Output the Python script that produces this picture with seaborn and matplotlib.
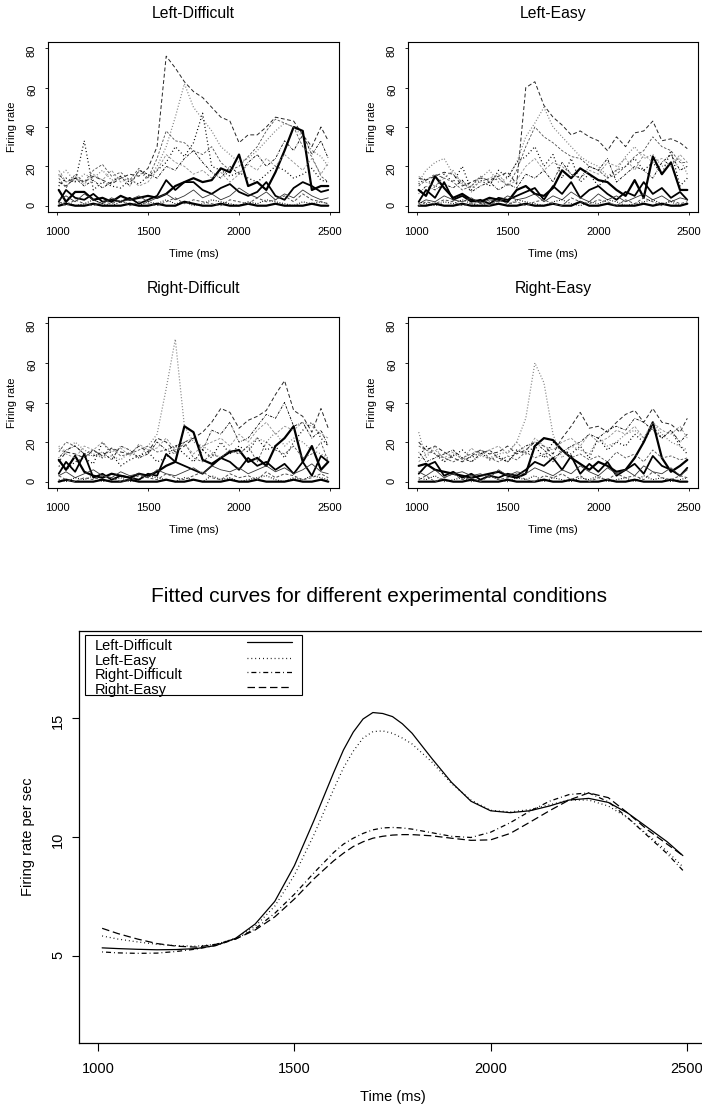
import matplotlib
matplotlib.use("Agg")
import matplotlib.pyplot as plt
from matplotlib.lines import Line2D
from matplotlib.patches import Rectangle
import seaborn as sns

sns.set_style("ticks")
plt.rcParams["font.family"] = ["Liberation Sans", "DejaVu Sans"]
for key in ("text.color", "axes.labelcolor", "xtick.color", "ytick.color", "axes.edgecolor"):
    plt.rcParams[key] = "black"

# ---------------------------------------------------------------- data
time_ms = [1010, 1050, 1100, 1150, 1200, 1250, 1300, 1350, 1400, 1450,
           1500, 1550, 1600, 1650, 1700, 1750, 1800, 1850, 1900, 1950,
           2000, 2050, 2100, 2150, 2200, 2250, 2300, 2350, 2400, 2450, 2490]

# binned firing rates, one row per neuron
left_difficult = [
    [12, 10, 14, 12, 15, 13, 11, 14, 16, 15, 19, 30, 76, 70, 63, 58, 55, 50, 45, 43, 32, 36, 36, 40, 45, 44, 43, 36, 30, 40, 33],
    [15, 18, 12, 16, 14, 18, 13, 15, 12, 17, 14, 20, 30, 45, 62, 50, 44, 38, 30, 26, 22, 24, 28, 33, 38, 42, 40, 35, 28, 25, 20],
    [10, 14, 12, 33, 8, 12, 10, 9, 13, 11, 15, 18, 22, 30, 25, 32, 47, 20, 18, 15, 17, 14, 12, 16, 20, 18, 14, 16, 19, 13, 12],
    [8, 2, 7, 7, 3, 4, 2, 5, 3, 4, 5, 4, 6, 10, 12, 14, 12, 13, 19, 17, 26, 10, 12, 8, 17, 28, 40, 38, 8, 10, 10],
    [2, 8, 4, 3, 6, 2, 3, 2, 4, 1, 3, 5, 13, 8, 12, 12, 8, 6, 9, 11, 7, 5, 7, 12, 5, 3, 9, 12, 10, 7, 8],
    [14, 9, 16, 12, 18, 21, 15, 17, 13, 19, 14, 24, 38, 33, 32, 28, 26, 30, 22, 18, 20, 25, 30, 38, 44, 42, 40, 30, 25, 15, 12],
    [16, 12, 14, 10, 13, 9, 12, 15, 10, 18, 16, 14, 20, 18, 24, 28, 22, 17, 14, 20, 16, 22, 26, 20, 24, 33, 28, 36, 26, 33, 24],
    [18, 12, 15, 11, 16, 13, 18, 12, 14, 10, 12, 18, 26, 22, 20, 16, 18, 14, 17, 12, 16, 21, 18, 24, 20, 26, 22, 18, 24, 16, 22],
    [3, 5, 2, 6, 3, 1, 4, 2, 3, 5, 2, 4, 6, 3, 5, 8, 4, 6, 3, 5, 9, 6, 4, 7, 3, 6, 4, 8, 5, 3, 4],
    [0, 1, 0, 0, 1, 0, 0, 0, 1, 0, 0, 1, 0, 0, 2, 1, 0, 0, 1, 0, 0, 1, 0, 0, 1, 0, 0, 0, 1, 0, 0],
    [1, 2, 0, 1, 3, 1, 0, 2, 1, 0, 2, 1, 3, 1, 2, 0, 1, 3, 2, 1, 0, 2, 1, 3, 2, 1, 0, 2, 1, 2, 1],
    [2, 0, 3, 1, 0, 2, 1, 3, 0, 2, 1, 0, 2, 4, 1, 3, 2, 1, 0, 3, 2, 1, 4, 2, 3, 5, 2, 6, 3, 2, 1],
]

left_easy = [
    [14, 13, 15, 17, 16, 10, 12, 14, 13, 15, 17, 11, 60, 63, 51, 45, 41, 36, 38, 35, 33, 28, 35, 30, 37, 38, 43, 33, 34, 32, 29],
    [12, 18, 22, 24, 16, 12, 10, 14, 18, 12, 14, 22, 35, 42, 50, 40, 35, 30, 25, 22, 20, 15, 18, 25, 30, 24, 26, 20, 22, 24, 16],
    [11, 14, 9, 16, 12, 20, 8, 13, 10, 18, 14, 22, 25, 30, 20, 26, 14, 24, 12, 16, 10, 14, 18, 20, 24, 18, 22, 16, 28, 10, 14],
    [8, 5, 15, 9, 4, 6, 3, 2, 4, 3, 2, 8, 10, 6, 5, 9, 18, 14, 19, 16, 13, 12, 8, 5, 13, 4, 25, 16, 22, 8, 8],
    [2, 8, 4, 12, 3, 5, 2, 3, 1, 4, 3, 5, 7, 9, 3, 10, 6, 12, 4, 8, 10, 6, 3, 7, 5, 12, 6, 9, 4, 7, 3],
    [10, 13, 16, 14, 12, 8, 10, 15, 12, 14, 10, 18, 30, 40, 35, 32, 28, 25, 24, 20, 18, 14, 16, 20, 25, 28, 35, 30, 28, 22, 22],
    [6, 10, 8, 11, 9, 13, 7, 10, 12, 8, 11, 9, 16, 14, 18, 12, 22, 16, 14, 20, 18, 24, 12, 16, 20, 18, 14, 22, 26, 18, 20],
    [15, 12, 10, 14, 18, 11, 9, 12, 14, 16, 10, 13, 20, 24, 18, 22, 20, 16, 14, 18, 16, 22, 20, 24, 18, 26, 22, 24, 20, 26, 22],
    [1, 3, 2, 5, 3, 2, 4, 1, 3, 2, 5, 3, 4, 6, 2, 5, 3, 7, 4, 2, 6, 3, 5, 2, 4, 6, 3, 5, 2, 4, 3],
    [0, 0, 1, 0, 0, 1, 0, 0, 0, 1, 0, 0, 1, 0, 0, 1, 0, 0, 2, 0, 0, 1, 0, 0, 0, 1, 0, 1, 0, 0, 1],
    [2, 1, 0, 2, 1, 3, 1, 0, 2, 1, 0, 3, 2, 1, 0, 2, 3, 1, 0, 2, 1, 3, 2, 0, 1, 2, 3, 1, 2, 0, 1],
    [0, 2, 1, 3, 2, 0, 1, 2, 0, 3, 1, 2, 0, 2, 3, 1, 0, 4, 2, 1, 3, 2, 0, 3, 1, 4, 2, 0, 3, 1, 2],
]

right_difficult = [
    [10, 15, 14, 12, 16, 13, 17, 15, 14, 18, 15, 22, 20, 15, 18, 22, 25, 30, 37, 35, 27, 31, 33, 36, 44, 51, 36, 33, 25, 37, 27],
    [18, 15, 20, 16, 14, 12, 13, 11, 15, 12, 18, 24, 47, 72, 28, 20, 18, 15, 12, 16, 14, 18, 22, 20, 25, 18, 22, 20, 16, 14, 12],
    [8, 6, 10, 12, 9, 20, 14, 8, 11, 13, 15, 10, 12, 18, 14, 10, 16, 12, 20, 14, 18, 15, 22, 16, 18, 12, 20, 26, 30, 22, 18],
    [11, 6, 13, 5, 3, 2, 4, 3, 2, 4, 3, 5, 8, 10, 28, 25, 11, 9, 12, 15, 16, 10, 12, 8, 18, 22, 28, 10, 18, 6, 10],
    [4, 10, 5, 14, 2, 4, 1, 3, 2, 1, 4, 3, 14, 10, 8, 6, 4, 8, 12, 10, 6, 12, 8, 10, 6, 9, 4, 10, 3, 13, 10],
    [15, 20, 18, 14, 16, 12, 17, 13, 14, 16, 18, 15, 16, 14, 20, 12, 10, 14, 12, 16, 14, 18, 10, 20, 16, 14, 18, 12, 14, 20, 10],
    [12, 16, 18, 14, 13, 15, 11, 18, 16, 12, 14, 20, 16, 18, 20, 22, 16, 26, 24, 30, 20, 22, 28, 34, 32, 40, 28, 30, 22, 26, 18],
    [17, 14, 12, 18, 16, 20, 15, 17, 13, 19, 16, 17, 22, 16, 19, 14, 18, 20, 22, 18, 24, 20, 26, 30, 24, 28, 26, 30, 28, 24, 22],
    [3, 5, 2, 4, 6, 3, 2, 5, 3, 4, 2, 6, 4, 3, 5, 7, 4, 8, 6, 5, 7, 4, 6, 8, 5, 7, 4, 6, 9, 5, 4],
    [0, 1, 0, 0, 0, 1, 0, 0, 1, 0, 0, 0, 1, 0, 0, 1, 0, 0, 0, 1, 0, 0, 1, 0, 0, 0, 1, 0, 0, 1, 0],
    [1, 0, 2, 1, 3, 0, 1, 2, 0, 1, 3, 2, 1, 0, 2, 1, 0, 3, 1, 2, 0, 1, 2, 3, 1, 0, 2, 1, 3, 2, 1],
    [3, 1, 0, 2, 1, 3, 2, 0, 1, 3, 2, 1, 4, 2, 1, 3, 5, 2, 1, 4, 2, 3, 1, 5, 2, 4, 3, 1, 2, 4, 2],
]

right_easy = [
    [20, 16, 18, 15, 12, 10, 13, 16, 14, 15, 18, 14, 16, 20, 18, 14, 22, 28, 35, 27, 28, 25, 30, 34, 36, 30, 37, 30, 29, 25, 32],
    [25, 12, 18, 10, 14, 12, 10, 13, 12, 14, 15, 20, 32, 60, 50, 24, 12, 18, 16, 14, 22, 18, 20, 24, 26, 22, 30, 24, 20, 18, 16],
    [12, 18, 14, 10, 13, 16, 12, 15, 11, 13, 10, 16, 14, 18, 12, 20, 16, 14, 18, 12, 22, 16, 20, 18, 24, 20, 28, 22, 26, 18, 14],
    [8, 9, 6, 5, 4, 3, 2, 3, 4, 5, 3, 2, 4, 18, 22, 21, 16, 12, 9, 6, 10, 8, 5, 6, 12, 20, 30, 12, 5, 8, 11],
    [4, 8, 10, 3, 5, 2, 4, 1, 3, 2, 4, 3, 6, 10, 8, 12, 6, 13, 4, 9, 5, 10, 3, 6, 9, 4, 13, 8, 6, 3, 7],
    [18, 16, 14, 12, 10, 12, 14, 16, 12, 10, 13, 11, 15, 12, 14, 10, 16, 12, 14, 11, 13, 10, 15, 12, 14, 10, 16, 12, 13, 11, 12],
    [15, 10, 12, 14, 16, 12, 10, 14, 16, 12, 10, 15, 18, 20, 16, 12, 15, 18, 20, 24, 22, 26, 28, 26, 32, 30, 26, 22, 26, 20, 24],
    [10, 14, 16, 12, 15, 11, 17, 13, 16, 18, 14, 20, 15, 22, 18, 16, 20, 22, 18, 24, 20, 22, 26, 24, 28, 22, 30, 26, 24, 28, 22],
    [5, 3, 6, 2, 4, 5, 3, 4, 2, 6, 3, 5, 4, 7, 5, 3, 6, 4, 8, 5, 3, 7, 4, 6, 3, 8, 5, 4, 7, 3, 6],
    [0, 0, 0, 1, 0, 0, 1, 0, 0, 0, 1, 0, 0, 0, 1, 0, 0, 1, 0, 0, 0, 1, 0, 0, 1, 0, 0, 0, 1, 0, 0],
    [2, 1, 3, 0, 1, 2, 0, 1, 3, 1, 0, 2, 1, 3, 0, 2, 1, 0, 2, 1, 3, 0, 1, 2, 0, 3, 1, 2, 0, 1, 2],
    [1, 3, 0, 2, 4, 1, 2, 0, 3, 1, 2, 4, 1, 0, 3, 2, 4, 1, 3, 0, 2, 1, 4, 2, 3, 1, 5, 2, 1, 3, 2],
]

conditions = ["Left-Difficult", "Left-Easy", "Right-Difficult", "Right-Easy"]

# smoothed population curves (firing rate per sec)
fit_time_ms = [1010, 1050, 1100, 1150, 1200, 1250, 1300, 1350, 1400, 1450,
               1500, 1550, 1600, 1625, 1650, 1675, 1700, 1725, 1750, 1775, 1800,
               1850, 1900, 1950, 2000, 2050, 2100, 2150, 2200, 2250, 2300,
               2350, 2400, 2450, 2490]
fit_left_difficult = [5.35, 5.32, 5.29, 5.27, 5.28, 5.32, 5.45, 5.75, 6.35, 7.3,
                      8.8, 10.7, 12.7, 13.65, 14.4, 14.95, 15.22, 15.18, 15.05, 14.75, 14.35,
                      13.3, 12.3, 11.5, 11.1, 11.02, 11.1, 11.3, 11.55, 11.62, 11.45,
                      11.0, 10.4, 9.8, 9.22]
fit_left_easy = [5.85, 5.72, 5.6, 5.5, 5.44, 5.42, 5.5, 5.75, 6.25, 7.1,
                 8.4, 10.1, 12.0, 12.9, 13.6, 14.15, 14.42, 14.45, 14.35, 14.15, 13.9,
                 13.15, 12.25, 11.55, 11.12, 11.05, 11.15, 11.35, 11.55, 11.55, 11.3,
                 10.8, 10.1, 9.4, 8.75]
fit_right_difficult = [5.18, 5.14, 5.12, 5.13, 5.2, 5.3, 5.45, 5.72, 6.15, 6.8,
                       7.6, 8.5, 9.35, 9.7, 9.95, 10.15, 10.3, 10.38, 10.4, 10.38, 10.33,
                       10.18, 10.03, 9.98, 10.2, 10.6, 11.08, 11.5, 11.78, 11.85, 11.48,
                       10.8, 10.05, 9.3, 8.6]
fit_right_easy = [6.17, 5.95, 5.72, 5.53, 5.42, 5.38, 5.5, 5.72, 6.1, 6.65,
                  7.4, 8.25, 9.0, 9.32, 9.6, 9.8, 9.95, 10.03, 10.08, 10.1, 10.1,
                  10.05, 9.95, 9.86, 9.88, 10.15, 10.62, 11.1, 11.55, 11.85, 11.65,
                  11.0, 10.3, 9.7, 9.22]

# ---------------------------------------------------------------- styles
neuron_styles = [
    ("0.15", 0.7, (0, (4, 2.5))),
    ("0.5", 0.9, (0, (0.8, 1.6))),
    ("black", 0.9, (0, (0.8, 2.0))),
    ("black", 1.6, "-"),
    ("black", 1.3, "-"),
    ("0.3", 0.6, (0, (3, 2))),
    ("black", 0.6, (0, (0.8, 1.5, 3, 1.5))),
    ("0.55", 0.6, (0, (3, 2))),
    ("0.2", 0.6, "-"),
    ("black", 1.6, "-"),
    ("black", 0.8, (0, (0.8, 1.5))),
    ("0.3", 0.7, (0, (3, 2))),
]

fit_styles = ["-", (0, (0.7, 2.4)), (0, (0.7, 2.4, 4, 2.4)), (0, (6, 3))]

W, H = 702, 1111
fig = plt.figure(figsize=(W / 100, H / 100), dpi=100)


def px_rect(x0, y0, x1, y1):
    return [x0 / W, 1 - y1 / H, (x1 - x0) / W, (y1 - y0) / H]


panel_rects = [px_rect(48, 42, 339, 212), px_rect(408, 42, 698, 212),
               px_rect(48, 317, 339, 488), px_rect(408, 317, 698, 488)]
panel_data = [left_difficult, left_easy, right_difficult, right_easy]

for title, rect, rows in zip(conditions, panel_rects, panel_data):
    ax = fig.add_axes(rect)
    for vals, (col, lw, ls) in zip(rows, neuron_styles):
        sns.lineplot(x=time_ms, y=vals, ax=ax, color=col, linewidth=lw,
                     linestyle=ls, estimator=None, sort=False)
    ax.set_xlim(951, 2549)
    ax.set_ylim(-3.2, 83.2)
    ax.set_xticks([1000, 1500, 2000, 2500])
    ax.set_yticks([0, 20, 40, 60, 80])
    ax.tick_params(axis="both", direction="out", length=2.5, width=0.6,
                   labelsize=8, color="black", labelcolor="black")
    ax.tick_params(axis="x", pad=8.5)
    ax.tick_params(axis="y", pad=5.5, labelrotation=90)
    for sp in ax.spines.values():
        sp.set_visible(True)
        sp.set_linewidth(0.8)
        sp.set_color("black")
    ax.set_title(title, fontsize=11.3, pad=17, color="black")
    ax.set_xlabel("Time (ms)", fontsize=8, color="black")
    ax.xaxis.set_label_coords(0.5, -0.247)
    ax.xaxis.label.set_va("center")
    ax.set_ylabel("Firing rate", fontsize=8, color="black")
    ax.yaxis.set_label_coords(-0.1237, 0.5)
    ax.yaxis.label.set_va("center")

# ---------------------------------------------------------------- fitted curves
axm = fig.add_axes(px_rect(79, 631, 706, 1043))
fits = [fit_left_difficult, fit_left_easy, fit_right_difficult, fit_right_easy]
for vals, ls in zip(fits, fit_styles):
    sns.lineplot(x=fit_time_ms, y=vals, ax=axm, color="black", linewidth=0.9,
                 linestyle=ls, estimator=None, sort=False)
axm.set_xlim(951, 2549)
axm.set_ylim(1.36, 18.64)
axm.set_xticks([1000, 1500, 2000, 2500])
axm.set_yticks([5, 10, 15])
axm.tick_params(axis="both", direction="out", length=5.4, width=0.8,
                labelsize=10.5, color="black", labelcolor="black")
axm.tick_params(axis="x", pad=8)
axm.tick_params(axis="y", pad=4.7, labelrotation=90)
for sp in axm.spines.values():
    sp.set_visible(True)
    sp.set_linewidth(0.9)
    sp.set_color("black")
axm.set_xlabel("Time (ms)", fontsize=10.5, color="black")
axm.xaxis.set_label_coords(0.5, -0.131)
axm.xaxis.label.set_va("center")
axm.set_ylabel("Firing rate per sec", fontsize=10.5, color="black")
axm.yaxis.set_label_coords(-0.0812, 0.5)
axm.yaxis.label.set_va("center")

fig.text(379 / W, 1 - 602 / H, "Fitted curves for different experimental conditions",
         fontsize=15, ha="center", va="baseline", color="black")

# legend: labels on the left, line keys on the right
axm.add_patch(Rectangle((0.00955, 0.8447), 0.3455, 0.1456, transform=axm.transAxes,
                        facecolor="white", edgecolor="black", linewidth=0.8, zorder=3))
label_y = [0.9539, 0.9175, 0.8823, 0.8471]
key_y = [0.9733, 0.9345, 0.9005, 0.8641]
for name, ty, ky, ls in zip(conditions, label_y, key_y, fit_styles):
    axm.text(0.0255, ty, name, transform=axm.transAxes, fontsize=10.5,
             ha="left", va="baseline", zorder=4, color="black")
    axm.add_line(Line2D([0.2675, 0.3392], [ky, ky], transform=axm.transAxes,
                        color="black", linewidth=0.9, linestyle=ls, zorder=4))

fig.savefig("out.png", dpi=100)
